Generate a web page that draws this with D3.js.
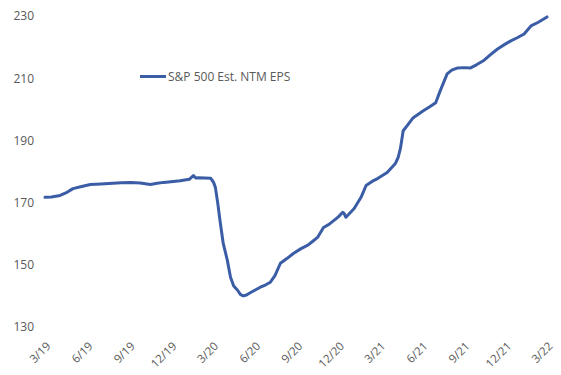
<!DOCTYPE html>
<html><head><meta charset="utf-8">
<script src="https://cdn.jsdelivr.net/npm/d3@7"></script>
<style>body{margin:0;background:#fff;}svg{display:block;}</style>
</head><body>
<script>
const dates = ["2019-03-01","2019-03-15","2019-04-03","2019-04-18","2019-05-01","2019-05-20","2019-06-08","2019-07-01","2019-07-27","2019-08-15","2019-09-04","2019-09-25","2019-10-17","2019-11-01","2019-11-15","2019-12-01","2019-12-21","2020-01-10","2020-01-19","2020-01-24","2020-01-30","2020-02-12","2020-02-26","2020-03-03","2020-03-07","2020-03-12","2020-03-17","2020-03-24","2020-04-02","2020-04-09","2020-04-16","2020-04-24","2020-05-01","2020-05-07","2020-05-14","2020-05-22","2020-06-01","2020-06-13","2020-06-24","2020-07-05","2020-07-15","2020-07-27","2020-08-10","2020-08-25","2020-09-10","2020-09-25","2020-10-05","2020-10-16","2020-10-29","2020-11-10","2020-11-21","2020-12-01","2020-12-10","2020-12-13","2020-12-17","2021-01-04","2021-01-19","2021-01-30","2021-02-12","2021-02-25","2021-03-17","2021-04-04","2021-04-10","2021-04-15","2021-04-21","2021-05-01","2021-05-13","2021-06-04","2021-06-18","2021-07-01","2021-07-11","2021-07-26","2021-08-05","2021-08-18","2021-09-01","2021-09-15","2021-09-28","2021-10-13","2021-10-28","2021-11-13","2021-11-28","2021-12-12","2021-12-26","2022-01-10","2022-01-25","2022-02-10","2022-03-01"];
const eps = [171.7,171.8,172.3,173.3,174.5,175.2,175.8,176.0,176.2,176.4,176.5,176.3,175.8,176.2,176.5,176.7,177.0,177.5,178.7,177.9,178.0,177.9,177.8,176.5,174.9,170.0,164.3,157.0,151.5,146.0,143.2,141.9,140.4,140.0,140.3,141.0,141.8,142.8,143.5,144.4,146.5,150.5,152.0,153.7,155.2,156.3,157.5,158.8,162.0,163.0,164.3,165.5,166.9,166.5,165.3,168.1,171.7,175.5,176.8,177.8,179.7,182.6,184.5,187.4,193.1,195.0,197.3,199.5,200.8,202.1,206.0,211.4,212.6,213.3,213.4,213.3,214.3,215.6,217.5,219.4,220.8,222.0,223.0,224.2,226.8,228.0,229.7];
const tickLabels = ["3/19","6/19","9/19","12/19","3/20","6/20","9/20","12/20","3/21","6/21","9/21","12/21","3/22"];
const yTicks = [130,150,170,190,210,230];
const seriesName = "S&P 500 Est. NTM EPS";

const W = 561, H = 375;
const svg = d3.select("body").append("svg").attr("width", W).attr("height", H);
const parse = d3.timeParse("%Y-%m-%d");
const data = dates.map((d,i)=>({date: parse(d), v: eps[i]}));
const tickDates = tickLabels.map(t => { const [m,y] = t.split("/"); return new Date(2000+ +y, +m-1, 1); });

const x = d3.scaleTime().domain([tickDates[0], tickDates[tickDates.length-1]]).range([45, 547]);
const y = d3.scaleLinear().domain([130, 230]).range([327, 16]);
const font = "'Open Sans', 'Noto Sans', sans-serif";

const yAxis = svg.append("g").attr("transform","translate(34,0)")
  .call(d3.axisLeft(y).tickValues(yTicks).tickSize(0).tickPadding(0));
yAxis.select(".domain").remove();
yAxis.selectAll("text").attr("font-family", font).attr("font-size", 12).attr("fill", "#595959");

const xAxis = svg.append("g").attr("transform","translate(0,344)")
  .call(d3.axisBottom(x).tickValues(tickDates).tickFormat((d,i)=>tickLabels[i]).tickSize(0).tickPadding(0));
xAxis.select(".domain").remove();
xAxis.selectAll("text").attr("font-family", font).attr("font-size", 11.5).attr("fill", "#595959")
  .attr("text-anchor","end").attr("dy","0.35em").attr("transform","translate(3,0) rotate(-45)");

svg.append("path").datum(data)
  .attr("fill","none").attr("stroke","#3A5DA6").attr("stroke-width",3)
  .attr("stroke-linejoin","round").attr("stroke-linecap","round")
  .attr("d", d3.line().x(d=>x(d.date)).y(d=>y(d.v)));

const lg = svg.append("g");
lg.append("line").attr("x1",140).attr("x2",166).attr("y1",76.5).attr("y2",76.5)
  .attr("stroke","#3A5DA6").attr("stroke-width",3);
lg.append("text").attr("x",168).attr("y",76.5).attr("dy","0.35em")
  .attr("font-family", font).attr("font-size", 12).attr("fill","#595959").text(seriesName);
</script>
</body></html>
